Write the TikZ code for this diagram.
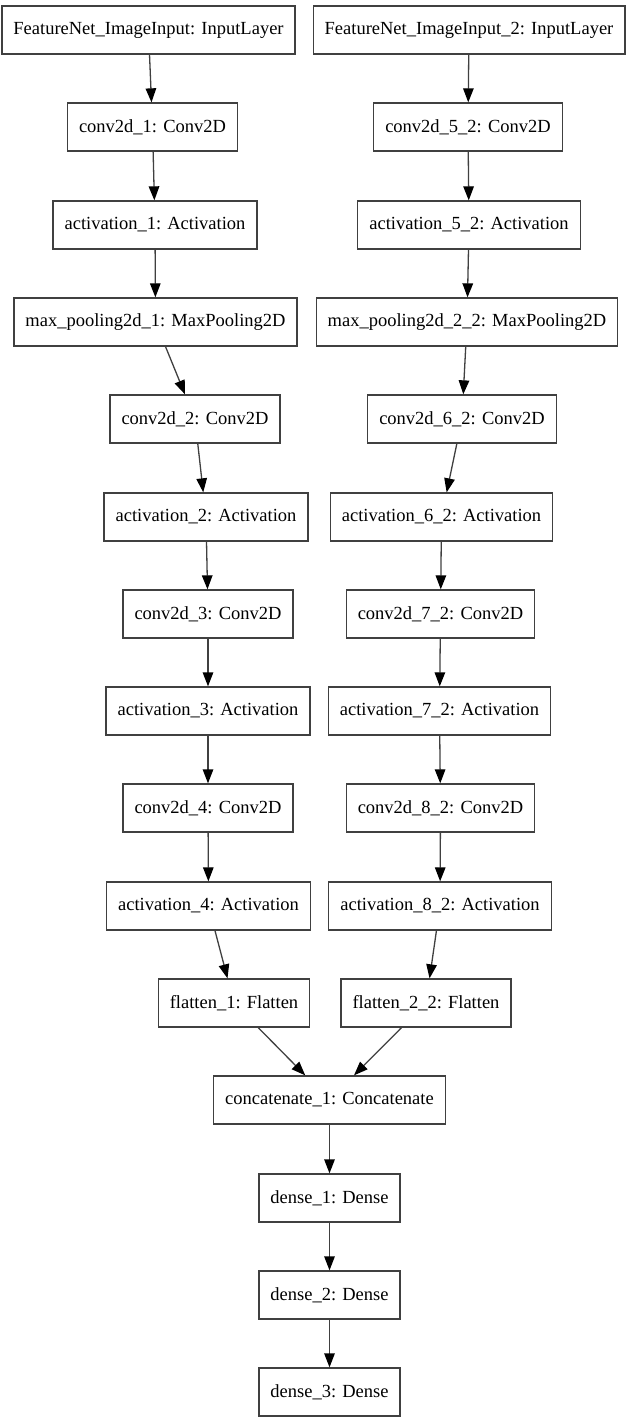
\documentclass[tikz,border=0pt]{standalone}
\usepackage{fontspec}
\setmainfont{Liberation Serif}
\usetikzlibrary{arrows.meta}

\begin{document}
\begin{tikzpicture}[
  x=1pt, y=-1pt,
  font=\fontsize{18.5}{20}\selectfont,
  layer/.style={draw=black!75, line width=1.3pt, minimum height=48pt, inner xsep=11.5pt, inner ysep=2pt},
  link/.style={draw=black!75, line width=1.3pt, -{Triangle[length=14pt,width=10.5pt,color=black]}}
]
\useasboundingbox (0,0) rectangle (629,1423);

% left branch
\node[layer] (in1) at (148.5,30) {FeatureNet\_ImageInput: InputLayer};
\node[layer] (conv1) at (152.5,127) {conv2d\_1: Conv2D};
\node[layer] (act1) at (155,225) {activation\_1: Activation};
\node[layer] (pool1) at (155.5,322) {max\_pooling2d\_1: MaxPooling2D};
\node[layer] (conv2) at (195,419) {conv2d\_2: Conv2D};
\node[layer] (act2) at (206,517) {activation\_2: Activation};
\node[layer] (conv3) at (208,614) {conv2d\_3: Conv2D};
\node[layer] (act3) at (208,711) {activation\_3: Activation};
\node[layer] (conv4) at (208,808) {conv2d\_4: Conv2D};
\node[layer] (act4) at (208.5,906) {activation\_4: Activation};
\node[layer] (flat1) at (234,1003) {flatten\_1: Flatten};

% right branch
\node[layer] (in2) at (469,30) {FeatureNet\_ImageInput\_2: InputLayer};
\node[layer] (conv5) at (468,127) {conv2d\_5\_2: Conv2D};
\node[layer] (act5) at (469,225) {activation\_5\_2: Activation};
\node[layer] (pool2) at (467,322) {max\_pooling2d\_2\_2: MaxPooling2D};
\node[layer] (conv6) at (462,419) {conv2d\_6\_2: Conv2D};
\node[layer] (act6) at (441.5,517) {activation\_6\_2: Activation};
\node[layer] (conv7) at (440.5,614) {conv2d\_7\_2: Conv2D};
\node[layer] (act7) at (439.5,711) {activation\_7\_2: Activation};
\node[layer] (conv8) at (440.5,808) {conv2d\_8\_2: Conv2D};
\node[layer] (act8) at (440,906) {activation\_8\_2: Activation};
\node[layer] (flat2) at (426,1003) {flatten\_2\_2: Flatten};

% merged head
\node[layer] (cat) at (329.5,1100) {concatenate\_1: Concatenate};
\node[layer] (dense1) at (329.5,1198) {dense\_1: Dense};
\node[layer] (dense2) at (329.5,1295) {dense\_2: Dense};
\node[layer] (dense3) at (329.5,1392) {dense\_3: Dense};

\foreach \a/\b in {in1/conv1, conv1/act1, act1/pool1, pool1/conv2, conv2/act2,
  act2/conv3, conv3/act3, act3/conv4, conv4/act4, act4/flat1,
  in2/conv5, conv5/act5, act5/pool2, pool2/conv6, conv6/act6,
  act6/conv7, conv7/act7, act7/conv8, conv8/act8, act8/flat2,
  flat1/cat, flat2/cat, cat/dense1, dense1/dense2, dense2/dense3}
  \draw[link] (\a) -- (\b);
\end{tikzpicture}
\end{document}
